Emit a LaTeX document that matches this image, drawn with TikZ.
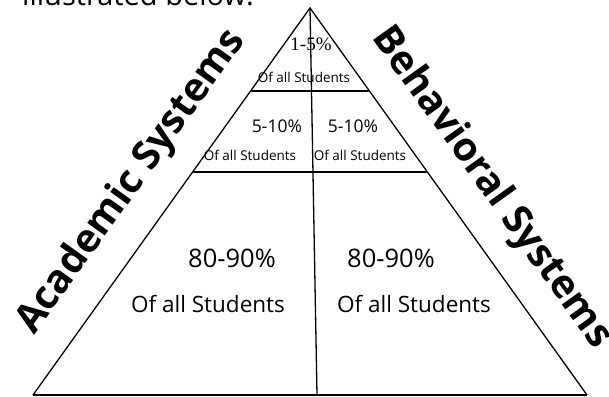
\documentclass[tikz,border=0pt]{standalone}
\usepackage{fontspec}
\setmainfont{Open Sans}
\newfontfamily\serifnum{Liberation Serif}
\newfontfamily\boldlabel{Open Sans Bold}
\begin{document}
\begin{tikzpicture}[x=1pt,y=-1pt,
  edge/.style={line width=1.3pt,black},
  txt/.style={inner sep=0pt,anchor=base,text=black},
  side/.style={inner sep=0pt,anchor=base,text=black,font=\boldlabel\fontsize{39.5}{39.5}\selectfont}]
\useasboundingbox (0,0) rectangle (609,396);
\clip (0,0) rectangle (609,396);
\fill[white] (0,0) rectangle (609,396);
% corners
\coordinate (apex) at (310,8);
\coordinate (bl) at (33,395);
\coordinate (br) at (587,395);
\coordinate (vb) at (317,395);
\coordinate (l1) at (250.6,91);
\coordinate (r1) at (369.4,91);
\coordinate (l2) at (192.6,172);
\coordinate (r2) at (427.4,172);
% lines
\draw[edge] (bl) -- (apex) -- (br);
\draw[edge] (bl) -- (br);
\draw[edge] (apex) -- (vb);
\draw[edge] (l1) -- (r1);
\draw[edge] (l2) -- (r2);
% top heading (cut off)
\node[inner sep=0pt,anchor=base west,font=\fontsize{29}{29}\selectfont] (head) at (22,6) {illustrated below:};
% tier texts
\node[txt,font=\serifnum\fontsize{19}{19}\selectfont] (t1) at (311,51) {1-5\%};
\node[txt,font=\fontsize{13.5}{13.5}\selectfont] (t1s) at (304,82) {Of all Students};
\node[txt,font=\fontsize{17.5}{17.5}\selectfont] (t2l) at (277,132) {5-10\%};
\node[txt,font=\fontsize{17.5}{17.5}\selectfont] (t2r) at (353,132) {5-10\%};
\node[txt,font=\fontsize{13.5}{13.5}\selectfont] (t2ls) at (250,160) {Of all Students};
\node[txt,font=\fontsize{13.5}{13.5}\selectfont] (t2rs) at (360,160) {Of all Students};
\node[txt,font=\fontsize{25.5}{25.5}\selectfont] (t3l) at (232,267) {80-90\%};
\node[txt,font=\fontsize{25.5}{25.5}\selectfont] (t3r) at (391,267) {80-90\%};
\node[txt,font=\fontsize{22.5}{22.5}\selectfont] (t3ls) at (208,312) {Of all Students};
\node[txt,font=\fontsize{22.5}{22.5}\selectfont] (t3rs) at (414,312) {Of all Students};
% side labels
\node[side,rotate=54.4] (acad) at (140,188) {Academic Systems};
\node[side,rotate=-54.4] (behav) at (483,194) {Behavioral Systems};
\end{tikzpicture}
\end{document}
